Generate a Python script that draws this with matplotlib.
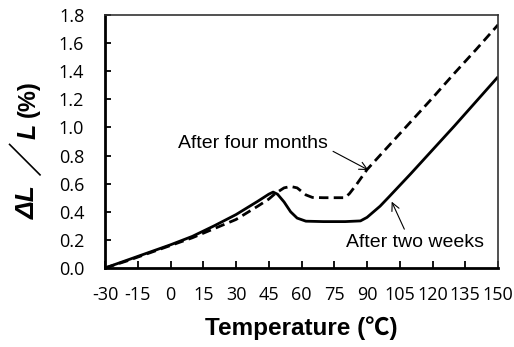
import matplotlib.pyplot as plt

# after two weeks (solid)
temp_2w = [-30, -20, -10, 0, 10, 20, 30, 40, 45, 47, 49, 52, 55, 58, 62, 70, 80, 87,
           90, 93, 96, 100, 110, 120, 130, 140, 150]
dl_2w = [0.0, 0.055, 0.11, 0.165, 0.225, 0.30, 0.38, 0.475, 0.525, 0.54, 0.525, 0.47,
         0.40, 0.355, 0.333, 0.33, 0.33, 0.335, 0.36, 0.40, 0.44, 0.505, 0.67, 0.84,
         1.01, 1.185, 1.36]

# after four months (dashed)
temp_4m = [-30, -20, -10, 0, 10, 20, 30, 40, 45, 48, 52, 55, 58, 60, 62, 65, 70, 80,
           82, 85, 90, 100, 110, 120, 130, 140, 150]
dl_4m = [0.0, 0.05, 0.105, 0.16, 0.215, 0.28, 0.345, 0.44, 0.49, 0.53, 0.57, 0.58,
         0.57, 0.545, 0.52, 0.502, 0.50, 0.50, 0.53, 0.59, 0.70, 0.87, 1.04, 1.21,
         1.385, 1.555, 1.73]

xticks = list(range(-30, 151, 15))
yticks = [0.0, 0.2, 0.4, 0.6, 0.8, 1.0, 1.2, 1.4, 1.6, 1.8]

plt.rcParams['font.family'] = ['Liberation Sans', 'Noto Sans CJK JP', 'DejaVu Sans']
plt.rcParams['axes.unicode_minus'] = False

fig = plt.figure(figsize=(5.14, 3.47), dpi=100)
ax = fig.add_axes([0.2043, 0.2277, 0.7646, 0.7291])

ax.plot(temp_2w, dl_2w, color='black', lw=2.0, solid_capstyle='butt')
ax.plot(temp_4m, dl_4m, color='black', lw=2.0, linestyle=(0, (3.4, 1.9)))

ax.set_xlim(-30, 150)
ax.set_ylim(0, 1.8)
ax.set_xticks(xticks)
ax.set_yticks(yticks)
ax.set_yticklabels([f'{v:.1f}' for v in yticks])
for lab in ax.get_xticklabels() + ax.get_yticklabels():
    lab.set_family(['Open Sans', 'DejaVu Sans'])

ax.tick_params(axis='x', direction='in', length=5, width=1.3, pad=13, labelsize=13)
ax.tick_params(axis='y', direction='in', length=4, width=1.3, pad=15, labelsize=13)

for side in ['left', 'bottom']:
    ax.spines[side].set_linewidth(2.0)
for side in ['top', 'right']:
    ax.spines[side].set_linewidth(1.2)
    ax.spines[side].set_color('#333333')

ax.set_xlabel('Temperature (℃)', fontsize=17.5, fontweight='bold', labelpad=9)

# y label pieces (italic quantity, fullwidth slash, upright unit)
ylab_x = 0.055
ylab_parts = [('ΔL', 202, 'italic', 19), ('／', 159, 'normal', 25),
              ('L', 131, 'italic', 18), ('(%)', 99, 'normal', 17)]
for txt, py, style, size in ylab_parts:
    fig.text(ylab_x, 1 - py / 347, txt, rotation=90, ha='center', va='center',
             fontsize=size, fontweight='bold', fontstyle=style)

ax.annotate('After four months', xy=(90.6, 0.697), xytext=(3.4, 0.886),
            fontsize=14, va='center', ha='left',
            arrowprops=dict(arrowstyle='->', color='black', lw=0.8,
                            shrinkA=2, shrinkB=0, relpos=(1.0, 0.2)))
ax.annotate('After two weeks', xy=(101.3, 0.472), xytext=(80.4, 0.178),
            fontsize=14, va='center', ha='left',
            arrowprops=dict(arrowstyle='->', color='black', lw=0.8,
                            shrinkA=2, shrinkB=0, relpos=(0.44, 1.0)))

fig.savefig('out.png', dpi=100)
